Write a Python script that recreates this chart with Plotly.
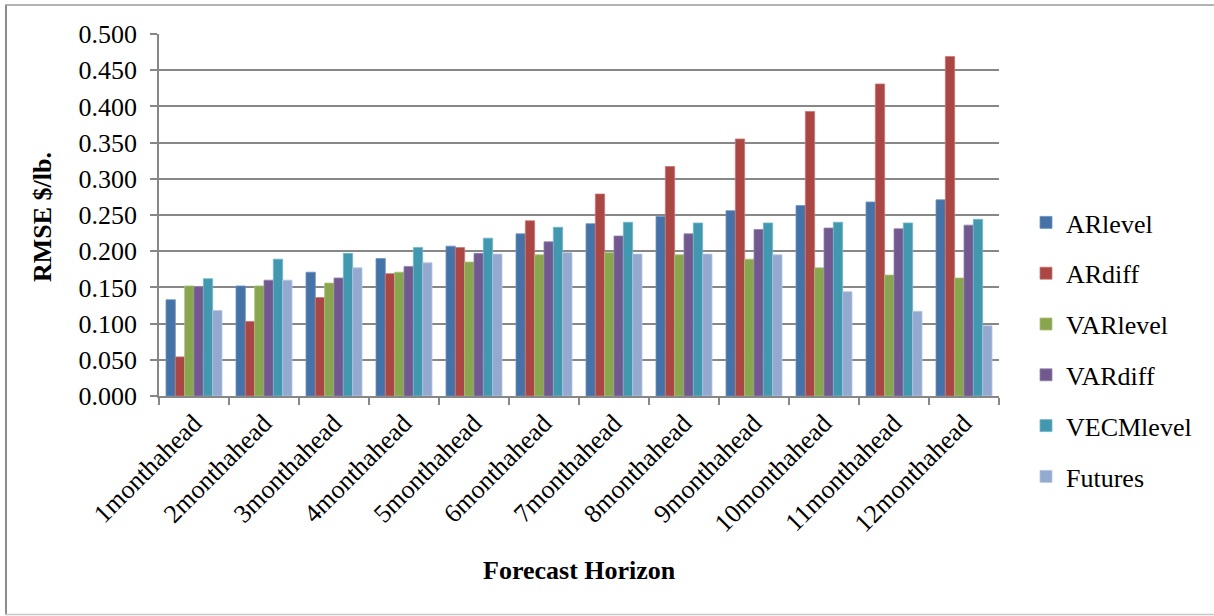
import plotly.graph_objects as go

# Forecast horizons (x categories)
horizons = ["1monthahead", "2monthahead", "3monthahead", "4monthahead",
            "5monthahead", "6monthahead", "7monthahead", "8monthahead",
            "9monthahead", "10monthahead", "11monthahead", "12monthahead"]

# RMSE ($/lb.) by model
ar_level   = [0.133, 0.152, 0.171, 0.190, 0.207, 0.224, 0.238, 0.248, 0.256, 0.263, 0.268, 0.271]
ar_diff    = [0.054, 0.103, 0.136, 0.169, 0.205, 0.242, 0.279, 0.317, 0.355, 0.393, 0.431, 0.469]
var_level  = [0.152, 0.152, 0.156, 0.171, 0.185, 0.195, 0.198, 0.195, 0.189, 0.177, 0.167, 0.163]
var_diff   = [0.151, 0.160, 0.163, 0.179, 0.197, 0.213, 0.221, 0.224, 0.230, 0.232, 0.231, 0.236]
vecm_level = [0.162, 0.189, 0.197, 0.205, 0.218, 0.233, 0.240, 0.239, 0.239, 0.240, 0.239, 0.244]
futures    = [0.118, 0.160, 0.177, 0.184, 0.196, 0.198, 0.196, 0.196, 0.195, 0.144, 0.117, 0.097]

y_ticks = [0.0, 0.05, 0.1, 0.15, 0.2, 0.25, 0.3, 0.35, 0.4, 0.45, 0.5]

series = [
    ("ARlevel", ar_level, "#4572A7", "#6f93c0"),
    ("ARdiff", ar_diff, "#AA4643", "#c67875"),
    ("VARlevel", var_level, "#89A54E", "#a9c17a"),
    ("VARdiff", var_diff, "#71588F", "#9683ad"),
    ("VECMlevel", vecm_level, "#4198AF", "#74b6c8"),
    ("Futures", futures, "#93A9CF", "#b6c6e0"),
]

W, H = 1214, 616
L, R, T, B = 159, 999, 34, 396   # plot area in pixels

def px_x(p):
    return (p - L) / (R - L)

def px_y(p):
    return (B - p) / (B - T)

FONT = "Times New Roman, Liberation Serif, DejaVu Serif, serif"
GRID = "#878787"

fig = go.Figure()
for i, (name, vals, color, edge) in enumerate(series):
    fig.add_trace(go.Bar(
        name=name, x=horizons, y=vals,
        marker=dict(color=color, line=dict(color=edge, width=0.8)),
        legendgroup=name,
    ))

fig.update_layout(
    width=W, height=H,
    margin=dict(l=L, r=W - R, t=T, b=H - B, pad=0),
    paper_bgcolor="white", plot_bgcolor="white",
    barmode="group", bargap=0.2, bargroupgap=0.0,
    font=dict(family=FONT, size=26, color="black"),
    showlegend=True,
    legend=dict(
        x=px_x(1026), xanchor="left",
        y=px_y(199), yanchor="top",
        font=dict(family=FONT, size=26, color="black"),
        traceorder="grouped", tracegroupgap=14,
        bgcolor="rgba(0,0,0,0)",
    ),
    xaxis=dict(
        type="category",
        showline=True, linecolor=GRID, linewidth=1.5,
        ticks="outside", tickson="boundaries", ticklen=7,
        tickcolor=GRID, tickwidth=1.5,
        tickangle=-45,
        tickfont=dict(family=FONT, size=26, color="black"),
        showgrid=False,
    ),
    yaxis=dict(
        range=[0, 0.5], tickvals=y_ticks, tickformat=".3f",
        showline=True, linecolor=GRID, linewidth=1.5,
        ticks="outside", ticklen=7, tickcolor=GRID, tickwidth=1.5,
        ticklabelstandoff=8,
        showgrid=True, gridcolor=GRID, gridwidth=1.5,
        zeroline=False,
        tickfont=dict(family=FONT, size=26, color="black"),
    ),
    annotations=[
        dict(text="<b>RMSE $/lb.</b>", textangle=-90,
             xref="paper", yref="paper", x=px_x(42), y=px_y(217),
             xanchor="center", yanchor="middle", showarrow=False,
             font=dict(family=FONT, size=26, color="black")),
        dict(text="<b>Forecast Horizon</b>",
             xref="paper", yref="paper", x=px_x(579), y=px_y(570),
             xanchor="center", yanchor="middle", showarrow=False,
             font=dict(family=FONT, size=26, color="black")),
    ],
    shapes=[
        # chart border
        dict(type="line", xref="paper", yref="paper",
             x0=px_x(6), x1=px_x(6), y0=px_y(5), y1=px_y(614.5),
             line=dict(color="#8c8c8c", width=2)),
        dict(type="line", xref="paper", yref="paper",
             x0=px_x(5), x1=px_x(1220), y0=px_y(5), y1=px_y(5),
             line=dict(color="#9a9a9a", width=1.5)),
        dict(type="line", xref="paper", yref="paper",
             x0=px_x(5), x1=px_x(1220), y0=px_y(614.5), y1=px_y(614.5),
             line=dict(color="#c8c8c8", width=1.5)),
    ],
)

fig.write_html("out.html")
